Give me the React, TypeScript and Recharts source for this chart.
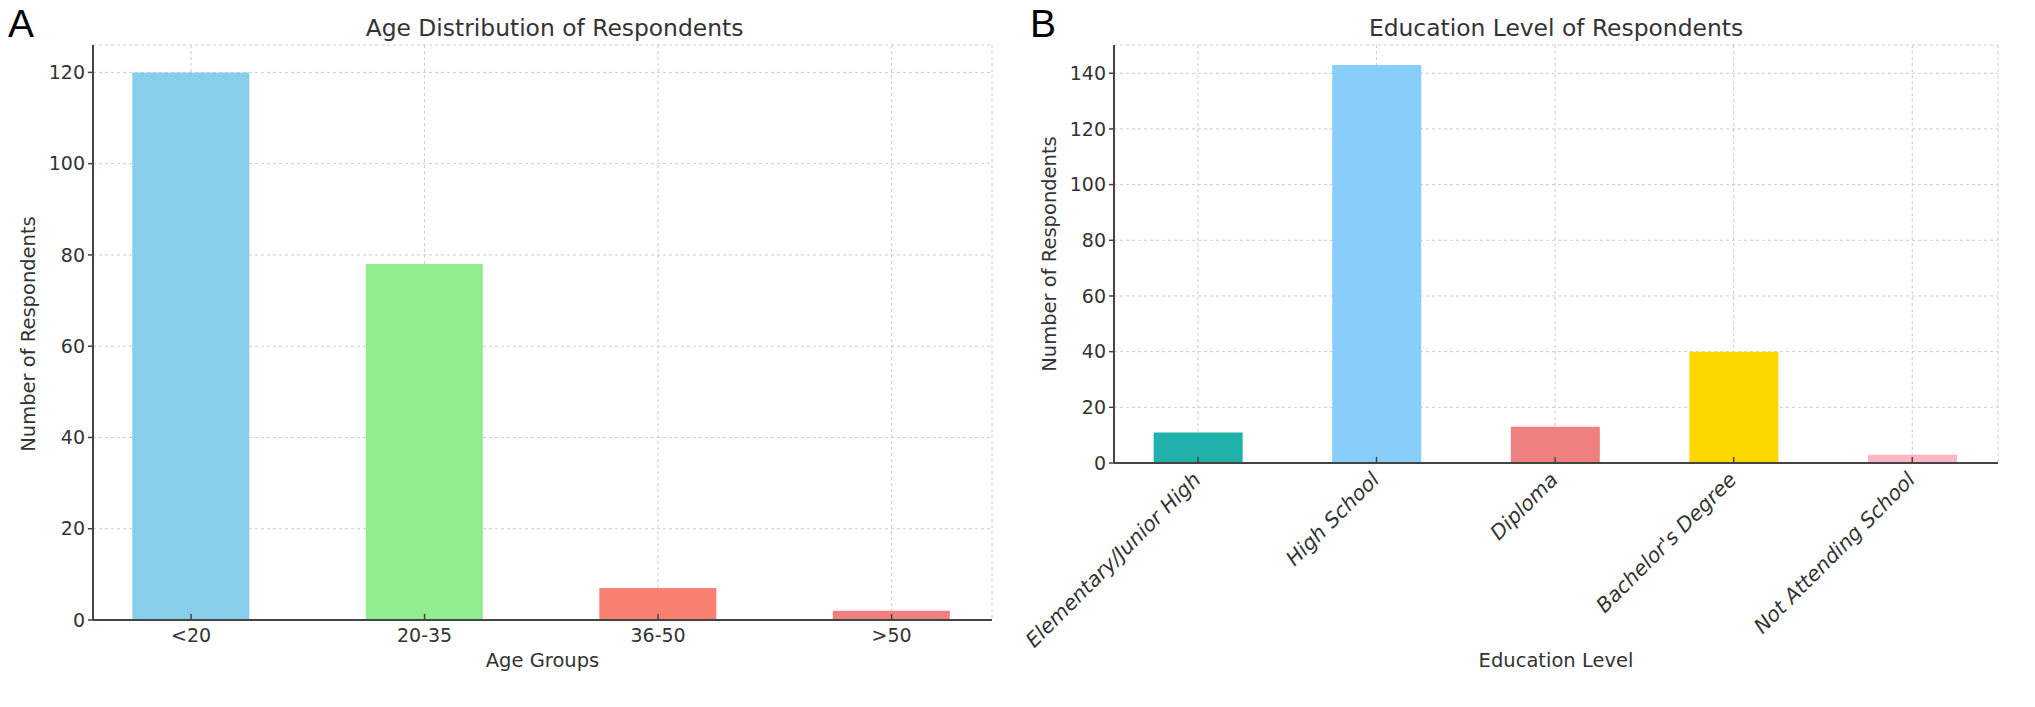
import React from 'react'
import { BarChart, Bar, XAxis, YAxis, CartesianGrid, Cell } from 'recharts'

const ageGroups = ['<20', '20-35', '36-50', '>50']
const ageCounts = [120, 78, 7, 2]
const ageColors = ['#87CEEB', '#90EE90', '#FA8072', '#F08080']
const ageTicks = [0, 20, 40, 60, 80, 100, 120]

const eduLevels = ['Elementary/Junior High', 'High School', 'Diploma', "Bachelor's Degree", 'Not Attending School']
const eduCounts = [11, 143, 13, 40, 3]
const eduColors = ['#20B2AA', '#87CEFA', '#F08080', '#FFD700', '#FFB6C1']
const eduTicks = [0, 20, 40, 60, 80, 100, 120, 140]

const FONT = '"DejaVu Sans", sans-serif'
const TEXT = '#333'
const AXIS = '#444'
const GRID = '#cccccc'

const ageData = ageGroups.map((name, i) => ({ idx: i, name, value: ageCounts[i] }))
const eduData = eduLevels.map((name, i) => ({ idx: i, name, value: eduCounts[i] }))

// x ticks point inward (up) like the original, label sits under the axis
const AgeTick = (props: any) => {
  const { x, y, payload } = props
  return (
    <g>
      <line x1={x} x2={x} y1={y - 15} y2={y - 9} stroke={AXIS} strokeWidth={1.5} />
      <text x={x} y={y} dy="0.71em" textAnchor="middle" fill={TEXT} fontSize={19} fontFamily={FONT}>
        {ageGroups[payload.value]}
      </text>
    </g>
  )
}

const EduTick = (props: any) => {
  const { x, y, payload } = props
  const tx = x + 4
  const ty = y + 9
  return (
    <g>
      <line x1={x} x2={x} y1={y - 15} y2={y - 9} stroke={AXIS} strokeWidth={1.5} />
      <text
        x={tx}
        y={ty}
        textAnchor="end"
        fill={TEXT}
        fontSize={20.5}
        fontStyle="italic"
        fontFamily={FONT}
        transform={`rotate(-45, ${tx}, ${ty})`}
      >
        {eduLevels[payload.value]}
      </text>
    </g>
  )
}

const tickStyle = { fill: TEXT, fontSize: 19, fontFamily: FONT }

const abs = (s: React.CSSProperties): React.CSSProperties => ({ position: 'absolute', fontFamily: FONT, color: TEXT, whiteSpace: 'nowrap', ...s })

export default function App() {
  return (
    <div style={{ position: 'absolute', left: 0, top: 0, width: 2035, height: 707, background: '#fff', overflow: 'hidden' }}>
      {/* panel A */}
      <div style={abs({ left: 8, top: 2, fontSize: 39, lineHeight: '44px', fontFamily: '"Liberation Sans", Arial, sans-serif', color: '#000' })}>A</div>
      <div style={abs({ left: 105, width: 899, top: 14, textAlign: 'center', fontSize: 23.4, lineHeight: '28px' })}>
        Age Distribution of Respondents
      </div>
      <div style={abs({ left: 29, top: 334, fontSize: 19.5, lineHeight: '22px', transform: 'translate(-50%, -50%) rotate(-90deg)' })}>
        Number of Respondents
      </div>
      <div style={abs({ left: 93, width: 899, top: 650, textAlign: 'center', fontSize: 19.5, lineHeight: '22px' })}>
        Age Groups
      </div>
      <div style={{ position: 'absolute', left: 0, top: 0 }}>
        <BarChart width={1000} height={707} data={ageData} margin={{ top: 45, right: 8, bottom: 57, left: 33 }}>
          <XAxis
            dataKey="idx"
            type="number"
            domain={[-0.42, 3.43]}
            allowDataOverflow
            ticks={[0, 1, 2, 3]}
            height={30}
            tickSize={0}
            tickMargin={9}
            tick={<AgeTick />}
            axisLine={{ stroke: AXIS, strokeWidth: 2 }}
            tickLine={false}
          />
          <YAxis
            domain={[0, 126]}
            ticks={ageTicks}
            allowDataOverflow
            width={60}
            tickSize={5}
            tickMargin={3}
            tick={tickStyle}
            axisLine={{ stroke: AXIS, strokeWidth: 2 }}
            tickLine={{ stroke: AXIS, strokeWidth: 1.5 }}
          />
          <Bar dataKey="value" barSize={117} isAnimationActive={false}>
            {ageData.map((d, i) => (
              <Cell key={d.name} fill={ageColors[i]} />
            ))}
          </Bar>
          <CartesianGrid stroke={GRID} strokeDasharray="3 3" />
        </BarChart>
      </div>

      {/* panel B */}
      <div style={abs({ left: 1030, top: 2, fontSize: 39, lineHeight: '44px', fontFamily: '"Liberation Sans", Arial, sans-serif', color: '#000' })}>B</div>
      <div style={abs({ left: 1114, width: 884, top: 14, textAlign: 'center', fontSize: 23.4, lineHeight: '28px' })}>
        Education Level of Respondents
      </div>
      <div style={abs({ left: 1050, top: 254, fontSize: 19.5, lineHeight: '22px', transform: 'translate(-50%, -50%) rotate(-90deg)' })}>
        Number of Respondents
      </div>
      <div style={abs({ left: 1114, width: 884, top: 650, textAlign: 'center', fontSize: 19.5, lineHeight: '22px' })}>
        Education Level
      </div>
      <div style={{ position: 'absolute', left: 1000, top: 0 }}>
        <BarChart width={1035} height={707} data={eduData} margin={{ top: 45, right: 37, bottom: 44, left: 54 }}>
          <XAxis
            dataKey="idx"
            type="number"
            domain={[-0.47, 4.48]}
            allowDataOverflow
            ticks={[0, 1, 2, 3, 4]}
            height={200}
            tickSize={0}
            tickMargin={9}
            tick={<EduTick />}
            axisLine={{ stroke: AXIS, strokeWidth: 2 }}
            tickLine={false}
          />
          <YAxis
            domain={[0, 150.15]}
            ticks={eduTicks}
            allowDataOverflow
            width={60}
            tickSize={5}
            tickMargin={3}
            tick={tickStyle}
            axisLine={{ stroke: AXIS, strokeWidth: 2 }}
            tickLine={{ stroke: AXIS, strokeWidth: 1.5 }}
          />
          <Bar dataKey="value" barSize={89} isAnimationActive={false}>
            {eduData.map((d, i) => (
              <Cell key={d.name} fill={eduColors[i]} />
            ))}
          </Bar>
          <CartesianGrid stroke={GRID} strokeDasharray="3 3" />
        </BarChart>
      </div>
    </div>
  )
}
